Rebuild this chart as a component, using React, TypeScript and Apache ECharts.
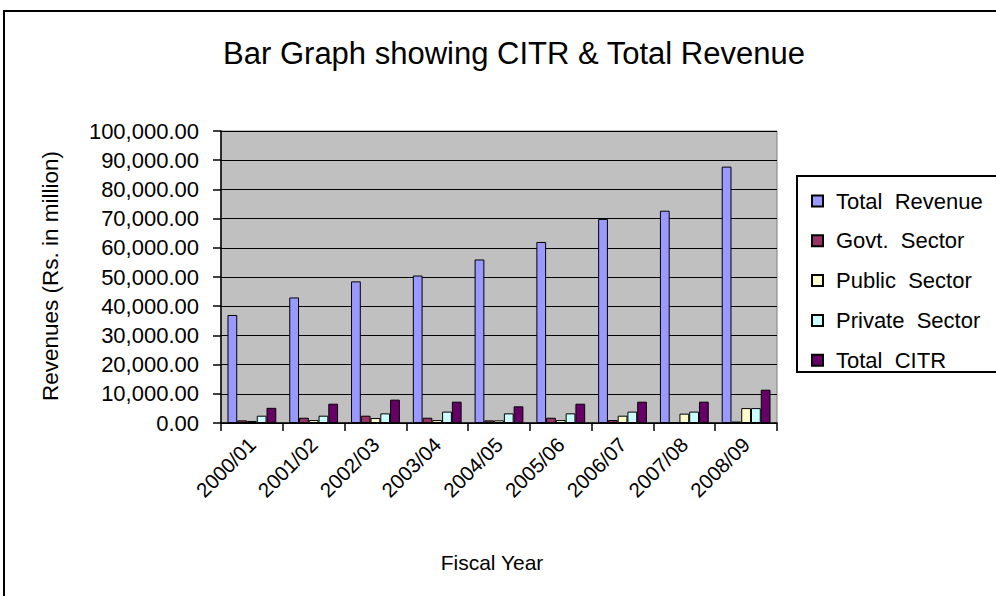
import React, { useEffect, useRef } from "react";
import * as echarts from "echarts";

const categories = ["2000/01", "2001/02", "2002/03", "2003/04", "2004/05", "2005/06", "2006/07", "2007/08", "2008/09"];
const totalRevenue = [37000, 43000, 48500, 50500, 56000, 62000, 69900, 72700, 87800];
const govtSector = [900, 1800, 2500, 1800, 900, 1800, 1000, 100, 500];
const publicSector = [700, 1000, 1700, 1000, 900, 1000, 2500, 3200, 5100];
const privateSector = [2500, 2500, 3300, 3900, 3300, 3300, 3900, 3900, 5100];
const totalCITR = [5200, 6600, 8000, 7300, 5700, 6600, 7300, 7300, 11400];
const seriesNames = ["Total  Revenue", "Govt.  Sector", "Public  Sector", "Private  Sector", "Total  CITR"];
const seriesColors = ["#9999FF", "#993366", "#FFFFCC", "#CCFFFF", "#660066"];
const FONT = "Liberation Sans, Arial, sans-serif";

export default function App() {
  const ref = useRef<HTMLDivElement>(null);
  useEffect(() => {
    if (!ref.current) return;
    const chart = echarts.init(ref.current, null, { renderer: "svg" });
    const values = [totalRevenue, govtSector, publicSector, privateSector, totalCITR];
    chart.setOption({
      animation: false,
      backgroundColor: "#fff",
      textStyle: { fontFamily: FONT },
      title: {
        text: "Bar Graph showing CITR & Total Revenue",
        left: 509,
        textAlign: "center",
        top: 33,
        textStyle: { fontFamily: FONT, fontSize: 31, fontWeight: "normal", color: "#000" },
      },
      grid: {
        left: 221,
        right: 219,
        top: 131,
        bottom: 173,
        show: true,
        backgroundColor: "#C0C0C0",
        borderColor: "#808080",
        borderWidth: 1,
      },
      legend: {
        orient: "vertical",
        left: 806,
        top: 185,
        itemWidth: 11,
        itemHeight: 11,
        itemGap: 17.8,
        icon: "rect",
        data: seriesNames,
        textStyle: { fontFamily: FONT, fontSize: 22, color: "#000", lineHeight: 21.5, padding: [0, 0, 0, 8] },
      },
      xAxis: {
        type: "category",
        data: categories,
        boundaryGap: true,
        axisLine: { lineStyle: { color: "#000", width: 1.5 } },
        axisTick: { show: true, length: 8, lineStyle: { color: "#000", width: 1.5 } },
        axisLabel: { rotate: 45, fontSize: 20.5, color: "#000", fontFamily: FONT, margin: 18 },
      },
      yAxis: {
        type: "value",
        min: 0,
        max: 100000,
        interval: 10000,
        axisLine: { show: true, lineStyle: { color: "#000", width: 1.5 } },
        axisTick: { show: true, length: 8, lineStyle: { color: "#000", width: 1.5 } },
        splitLine: { show: true, lineStyle: { color: "#000", width: 1 } },
        axisLabel: {
          fontSize: 22,
          color: "#000",
          fontFamily: FONT,
          margin: 22,
          formatter: (v: number) => v.toLocaleString("en-US", { minimumFractionDigits: 2, maximumFractionDigits: 2 }),
        },
      },
      series: seriesNames.map((name, i) => ({
        name,
        type: "bar",
        data: values[i],
        barGap: "0%",
        barCategoryGap: "21%",
        itemStyle: { color: seriesColors[i], borderColor: "#000", borderWidth: 1 },
      })),
      graphic: [
        {
          type: "rect",
          shape: { x: 4, y: 11, width: 1100, height: 700 },
          style: { fill: "none", stroke: "#000", lineWidth: 2 },
          silent: true,
          z: 100,
        },
        {
          type: "rect",
          shape: { x: 797, y: 176, width: 300, height: 196 },
          style: { fill: "none", stroke: "#000", lineWidth: 2 },
          silent: true,
          z: 100,
        },
        {
          type: "text",
          x: 50,
          y: 276,
          rotation: Math.PI / 2,
          style: {
            text: "Revenues (Rs. in million)",
            font: `22.5px ${FONT}`,
            fill: "#000",
            textAlign: "center",
            textVerticalAlign: "middle",
          },
        },
        {
          type: "text",
          x: 492,
          y: 562,
          style: {
            text: "Fiscal Year",
            font: `21px ${FONT}`,
            fill: "#000",
            textAlign: "center",
            textVerticalAlign: "middle",
          },
        },
      ],
    });
    return () => chart.dispose();
  }, []);
  return <div ref={ref} style={{ position: "fixed", left: 0, top: 0, width: 996, height: 596 }} />;
}
